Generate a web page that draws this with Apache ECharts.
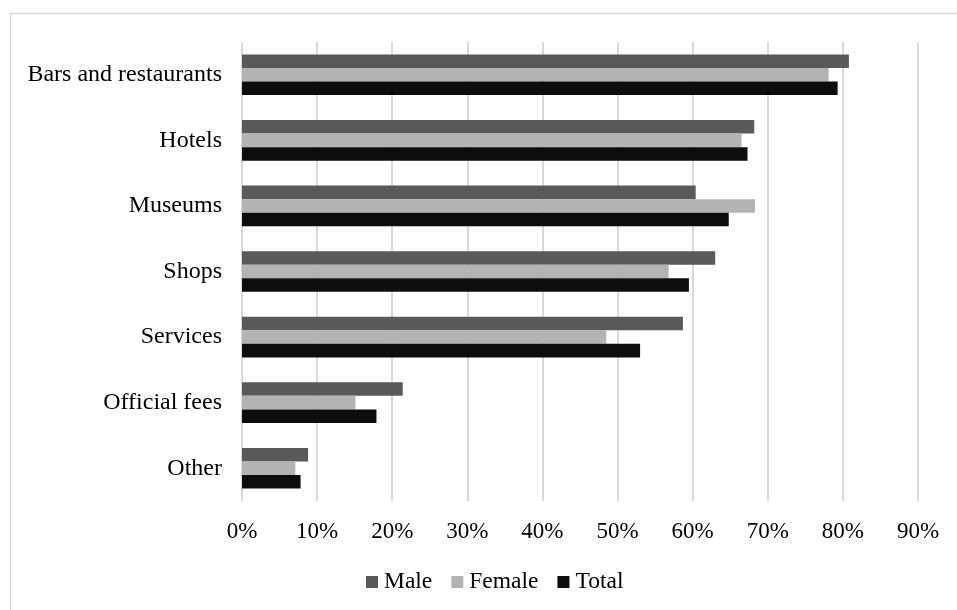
<!DOCTYPE html>
<html>
<head>
<meta charset="utf-8">
<script src="https://cdn.jsdelivr.net/npm/echarts@6/dist/echarts.min.js"></script>
<style>
  html, body { margin: 0; padding: 0; background: #ffffff; }
  #chart { width: 957px; height: 610px; }
</style>
</head>
<body>
<div id="chart"></div>
<script>
// Categories, top to bottom
const categories = ['Bars and restaurants', 'Hotels', 'Museums', 'Shops', 'Services', 'Official fees', 'Other'];

// Share of respondents (%)
const male   = [80.8, 68.2, 60.4, 63.0, 58.7, 21.4, 8.8];
const female = [78.1, 66.5, 68.3, 56.8, 48.5, 15.1, 7.1];
const total  = [79.3, 67.3, 64.8, 59.5, 53.0, 17.9, 7.8];

const seriesNames = ['Male', 'Female', 'Total'];
const xTicks = { min: 0, max: 90, step: 10 };

const FONT = '"Liberation Serif", "Times New Roman", serif';
const colors = ['#595959', '#b3b3b3', '#0d0d0d'];

const chart = echarts.init(document.getElementById('chart'), null, { renderer: 'canvas' });

chart.setOption({
  animation: false,
  backgroundColor: '#ffffff',
  color: colors,
  graphic: [{
    type: 'rect',
    left: 8, top: 11,
    shape: { width: 980, height: 640 },
    style: { fill: 'none', stroke: '#d9d9d9', lineWidth: 1.5 },
    silent: true
  }],
  grid: { left: 242, right: 39, top: 42, bottom: 109, containLabel: false },
  legend: {
    data: seriesNames,
    left: 361, top: 565,
    itemWidth: 12, itemHeight: 12, itemGap: 19,
    icon: 'rect',
    textStyle: { fontFamily: FONT, fontSize: 23.5, color: '#000000', padding: [0, 0, 0, 1] }
  },
  xAxis: {
    type: 'value',
    min: xTicks.min, max: xTicks.max, interval: xTicks.step,
    axisLine: { show: false },
    axisTick: { show: false },
    axisLabel: {
      formatter: '{value}%',
      fontFamily: FONT, fontSize: 23, color: '#000000', margin: 19
    },
    splitLine: { show: true, lineStyle: { color: '#d9d9d9', width: 2 } }
  },
  yAxis: {
    type: 'category',
    data: categories,
    inverse: true,
    axisLine: { show: false },
    axisTick: { show: false },
    axisLabel: { fontFamily: FONT, fontSize: 24, color: '#000000', margin: 20 }
  },
  series: [
    { name: seriesNames[0], type: 'bar', data: male,   barGap: '0%', barCategoryGap: '38%' },
    { name: seriesNames[1], type: 'bar', data: female, barGap: '0%', barCategoryGap: '38%' },
    { name: seriesNames[2], type: 'bar', data: total,  barGap: '0%', barCategoryGap: '38%' }
  ]
});
</script>
</body>
</html>
